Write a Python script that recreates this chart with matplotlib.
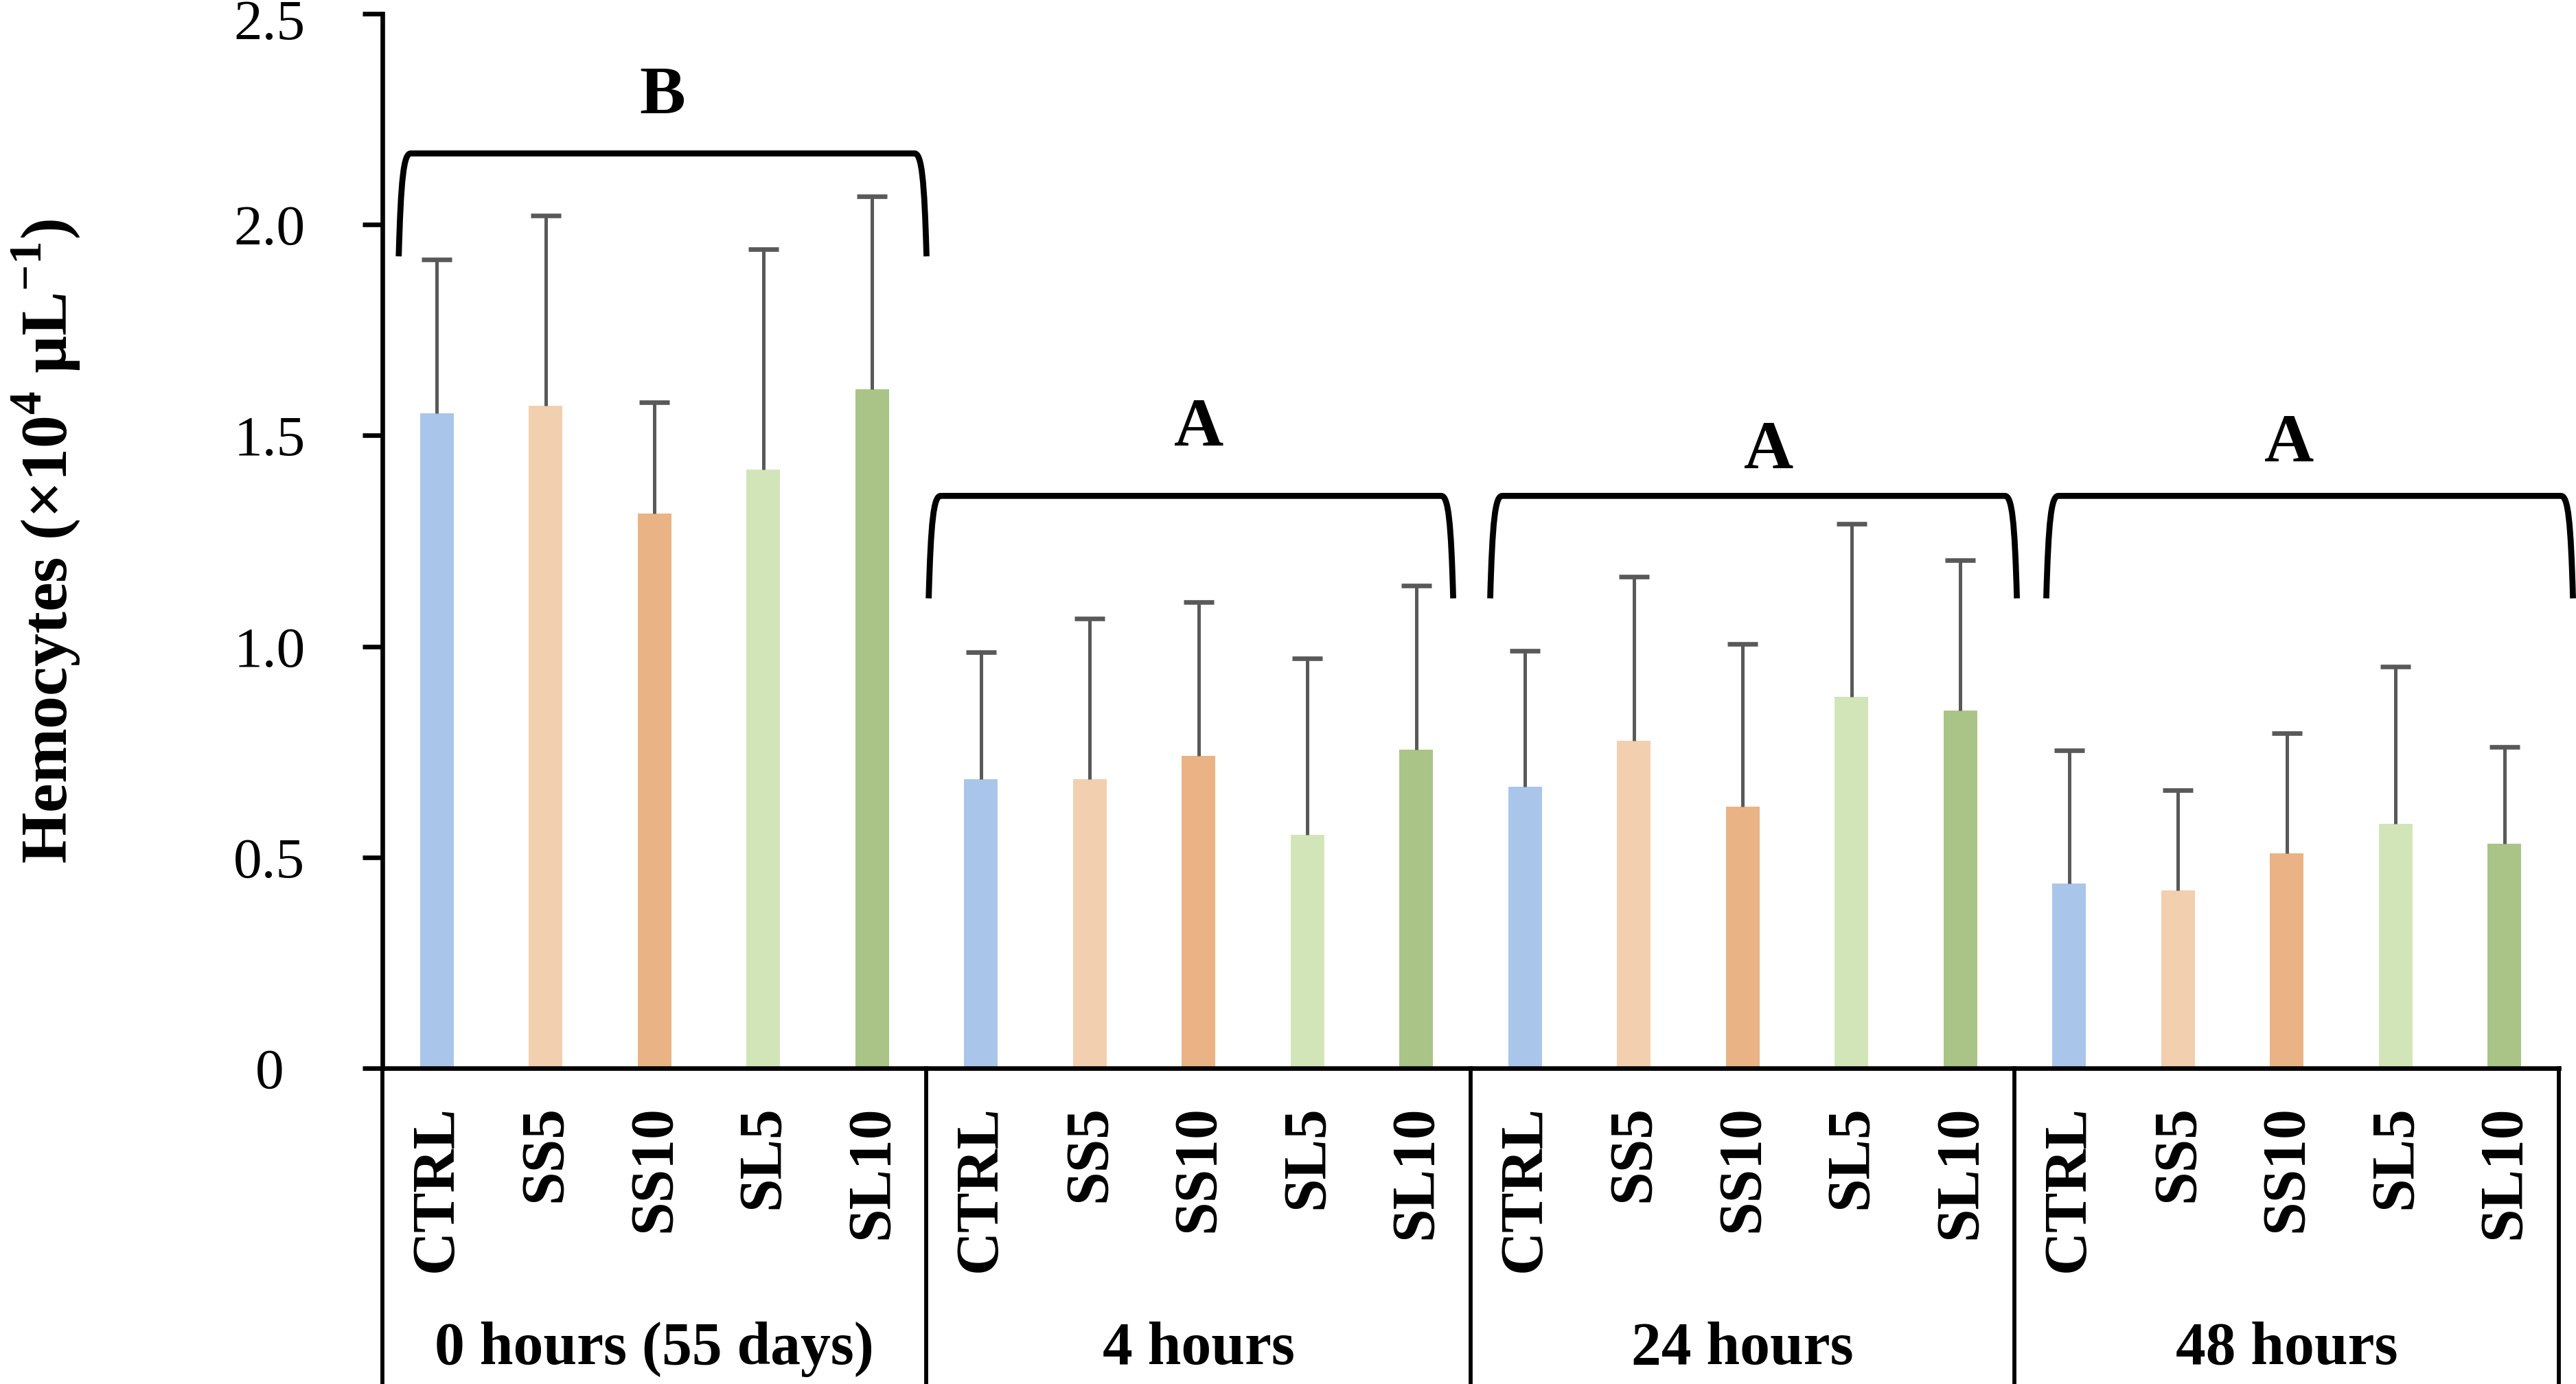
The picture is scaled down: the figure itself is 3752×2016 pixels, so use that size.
import matplotlib
matplotlib.use("Agg")
import matplotlib.pyplot as plt
import matplotlib.transforms as mtransforms
from matplotlib.path import Path
from matplotlib.patches import PathPatch
import numpy as np

plt.rcParams['font.family'] = ['Liberation Serif', 'DejaVu Serif']
plt.rcParams['mathtext.fontset'] = 'custom'
plt.rcParams['mathtext.rm'] = 'Liberation Serif'
plt.rcParams['mathtext.bf'] = 'Liberation Serif:bold'

# ---- data ----
treatments = ["CTRL", "SS5", "SS10", "SL5", "SL10"]
times = ["0 hours (55 days)", "4 hours", "24 hours", "48 hours"]
colors = ["#AAC5EA", "#F2CFAF", "#E9B386", "#D2E5B9", "#AAC487"]

mean_0h = [1.553, 1.570, 1.316, 1.420, 1.610]
sd_0h = [0.365, 0.451, 0.263, 0.522, 0.458]
mean_4h = [0.686, 0.686, 0.741, 0.553, 0.755]
sd_4h = [0.301, 0.380, 0.364, 0.419, 0.389]
mean_24h = [0.667, 0.777, 0.620, 0.880, 0.848]
sd_24h = [0.323, 0.388, 0.386, 0.410, 0.356]
mean_48h = [0.438, 0.422, 0.509, 0.580, 0.532]
sd_48h = [0.316, 0.238, 0.286, 0.372, 0.230]

group_letters = ["B", "A", "A", "A"]

yticks = [0, 0.5, 1.0, 1.5, 2.0, 2.5]
ytick_labels = ["0", "0.5", "1.0", "1.5", "2.0", "2.5"]

means = [mean_0h, mean_4h, mean_24h, mean_48h]
sds = [sd_0h, sd_4h, sd_24h, sd_48h]

# ---- figure ----
fig = plt.figure(figsize=(3752 / 300, 2016 / 300), dpi=300)
ax = fig.add_axes([0.14845, 0.2282, 0.99333 - 0.14845, 0.990 - 0.2282])

n = len(treatments)
xs_all, vals_all, sds_all, cols_all, labs_all = [], [], [], [], []
for g in range(len(times)):
    for i in range(n):
        xs_all.append(g * n + i)
        vals_all.append(means[g][i])
        sds_all.append(sds[g][i])
        cols_all.append(colors[i])
        labs_all.append(treatments[i])
xs_all = np.array(xs_all, dtype=float)
vals_all = np.array(vals_all)
sds_all = np.array(sds_all)

ax.bar(xs_all, vals_all, width=0.31, color=cols_all, zorder=2)
# upward-only error bars
ecol = "#595959"
ax.vlines(xs_all, vals_all, vals_all + sds_all, color=ecol, lw=1.2, zorder=3)
ax.plot(xs_all, vals_all + sds_all, ls="none", marker="_", markersize=10.6,
        markeredgewidth=1.6, color=ecol, zorder=3)

ax.set_xlim(-0.5, len(xs_all) - 0.5)
ax.set_ylim(0, 2.5)

for s in ["top", "right"]:
    ax.spines[s].set_visible(False)
for s in ["left", "bottom"]:
    ax.spines[s].set_linewidth(1.6)

tick_len, tick_pad = 7, 32.5
ax.set_yticks(yticks)
# the top label is drawn separately, slightly lowered so it stays inside the figure
ax.set_yticklabels(ytick_labels[:-1] + [""], fontsize=20, ha="center")
ax.tick_params(axis="y", direction="out", length=tick_len, width=1.6, pad=tick_pad)
ytrans = mtransforms.blended_transform_factory(ax.transAxes, ax.transData)
ax.annotate(ytick_labels[-1], xy=(0, yticks[-1]), xycoords=ytrans,
            xytext=(-(tick_len + tick_pad), -4.0), textcoords="offset points",
            ha="center", va="center", fontsize=20, annotation_clip=False)

ax.set_xticks(xs_all)
ax.set_xticklabels(labs_all, rotation=90, fontsize=21, fontweight="bold")
ax.tick_params(axis="x", length=0, pad=13)

trans = mtransforms.blended_transform_factory(ax.transData, ax.transAxes)
# category separators
for b in np.arange(-0.5, len(xs_all), n):
    ax.plot([b, b], [0, -0.32], transform=trans, clip_on=False, color="black", lw=1.4)
# group labels
for g, t in enumerate(times):
    ax.text(g * n + (n - 1) / 2, -0.2806, t, transform=trans, ha="center",
            va="baseline", fontsize=21, fontweight="bold")

# brackets with letters
brackets = [(-0.35, 4.50, 2.169, 1.925, 2.07, 2.304),
            (4.52, 9.34, 1.357, 1.114, 7.00, 1.516),
            (9.68, 14.52, 1.357, 1.114, 12.24, 1.462),
            (14.79, 19.63, 1.357, 1.114, 17.02, 1.478)]
for (x0, x1, yt, yb, lx, ly), letter in zip(brackets, group_letters):
    verts = [(x0, yb), (x0 + 0.02, yt - 0.06), (x0 + 0.045, yt), (x0 + 0.11, yt),
             (x1 - 0.11, yt),
             (x1 - 0.045, yt), (x1 - 0.02, yt - 0.06), (x1, yb)]
    codes = [Path.MOVETO, Path.CURVE4, Path.CURVE4, Path.CURVE4,
             Path.LINETO,
             Path.CURVE4, Path.CURVE4, Path.CURVE4]
    ax.add_patch(PathPatch(Path(verts, codes), fill=False, lw=2.1,
                           edgecolor="black", clip_on=False, zorder=4,
                           capstyle="butt", joinstyle="round"))
    ax.text(lx, ly, letter, ha="center", va="center", fontsize=24,
            fontweight="bold", zorder=4)

ax.text(-0.1546, 0.50, r"Hemocytes (×10$^{\mathbf{4}}$ µL$^{\mathbf{-1}}$)",
        transform=ax.transAxes, rotation=90, ha="center", va="center",
        fontsize=23, fontweight="bold")

fig.savefig("out.png", dpi=300)
